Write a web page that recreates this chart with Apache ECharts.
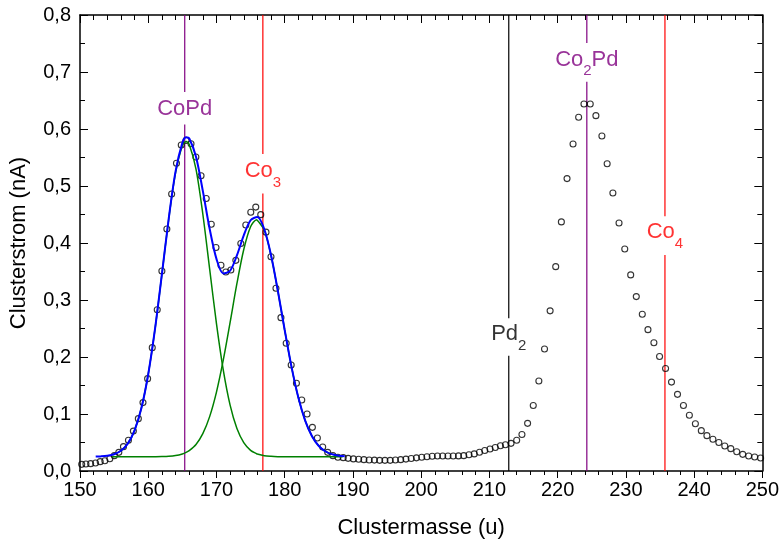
<!DOCTYPE html>
<html><head><meta charset="utf-8">
<script src="https://cdn.jsdelivr.net/npm/echarts@6/dist/echarts.min.js"></script>
<style>html,body{margin:0;padding:0;background:#fff}#c{width:782px;height:546px}</style>
</head><body><div id="c"></div>
<script>
// measured cluster current (scatter)
const massData = [150.25,150.87,151.56,152.28,152.96,153.64,154.37,155.03,155.69,156.37,157.1,157.82,158.55,159.23,159.91,160.59,161.32,162.0,162.73,163.43,164.14,164.84,165.55,166.27,166.98,167.74,168.5,169.24,169.93,170.66,171.38,172.11,172.84,173.57,174.3,175.03,175.76,176.49,177.26,177.99,178.72,179.45,180.22,180.95,181.72,182.5,183.28,184.06,184.79,185.57,186.3,187.07,187.8,188.58,189.3,190.07,190.84,191.61,192.38,193.15,193.92,194.69,195.46,196.23,197.0,197.77,198.54,199.31,200.08,200.85,201.62,202.39,203.16,203.93,204.7,205.47,206.24,207.01,207.78,208.55,209.32,210.09,210.86,211.62,212.35,213.17,214.0,214.77,215.6,216.43,217.25,218.08,218.9,219.72,220.55,221.38,222.26,223.08,223.86,224.78,225.61,226.49,227.26,228.1,229.0,229.84,230.71,231.53,232.41,233.24,234.11,234.94,235.82,236.69,237.57,238.44,239.31,240.19,241.06,241.88,242.76,243.63,244.5,245.38,246.25,247.13,248.0,248.88,249.75];
const currentData = [0.0117,0.0123,0.0129,0.014,0.0164,0.018,0.0216,0.0269,0.0327,0.0427,0.054,0.070,0.0918,0.120,0.162,0.2164,0.283,0.351,0.4246,0.486,0.540,0.572,0.580,0.574,0.551,0.518,0.478,0.433,0.392,0.361,0.349,0.3526,0.3696,0.399,0.4316,0.454,0.463,0.4497,0.419,0.376,0.3205,0.269,0.224,0.186,0.154,0.1246,0.100,0.0766,0.058,0.042,0.0327,0.0269,0.024,0.0234,0.0222,0.0212,0.0207,0.0199,0.0193,0.0191,0.0187,0.0187,0.0187,0.0193,0.0199,0.0209,0.0219,0.0231,0.0241,0.0251,0.0259,0.0263,0.0263,0.0263,0.0264,0.0265,0.0269,0.0285,0.0300,0.0330,0.0360,0.0385,0.0413,0.0444,0.046,0.0485,0.054,0.064,0.0836,0.115,0.158,0.214,0.281,0.3585,0.437,0.513,0.5737,0.6205,0.6439,0.6439,0.6234,0.5877,0.539,0.4877,0.435,0.3895,0.344,0.306,0.275,0.248,0.225,0.201,0.1797,0.156,0.1345,0.115,0.0977,0.083,0.0708,0.062,0.0556,0.050,0.0439,0.0392,0.0339,0.0292,0.0263,0.0246,0.0228];

// total fit (blue)
const fitMass = [152.3,153,154,155,156,157,158,159,160,161,162,163,164,165,165.55,166,167,168,169,170,171,172,173,174,175,176,177,178,179,180,181,182,183,184,185,186,187,188,188.8];
const fitSum = [0.0253,0.0256,0.0267,0.0294,0.0355,0.0480,0.0713,0.1105,0.1698,0.2496,0.3449,0.4425,0.5252,0.5757,0.5856,0.5838,0.5513,0.4914,0.4249,0.3721,0.3467,0.3513,0.3784,0.4133,0.4399,0.4456,0.4245,0.3786,0.3159,0.2473,0.1827,0.1288,0.0884,0.0610,0.0439,0.0342,0.0292,0.0268,0.0258];

// single peak components (green)
const compMass = [154.7,155,156,157,158,159,160,161,162,163,164,165,165.55,166,167,168,169,170,171,172,173,174,175,175.9,176,177,178,179,180,181,182,183,184,185,186,187,188,188.5];
const peak1Current = [0.0283,0.0294,0.0355,0.0480,0.0713,0.1105,0.1698,0.2496,0.3446,0.4417,0.5231,0.5708,0.5780,0.5731,0.5297,0.4509,0.3545,0.2586,0.1769,0.1155,0.0744,0.0497,0.0363,0.0302,0.0298,0.0268,0.0257,0.0252,0.0251,0.025,0.025,0.025,0.025,0.025,0.025,0.025,0.025,0.025];
const peak2Current = [0.025,0.025,0.025,0.025,0.025,0.025,0.025,0.0251,0.0253,0.0258,0.0271,0.0299,0.0326,0.0357,0.0466,0.0655,0.0954,0.1385,0.1948,0.2608,0.3290,0.3886,0.4286,0.4410,0.4408,0.4227,0.3779,0.3157,0.2472,0.1826,0.1288,0.0884,0.0610,0.0439,0.0342,0.0292,0.0268,0.0262];

// cluster mass markers
const markerNames = ['CoPd', 'Co3', 'Pd2', 'Co2Pd', 'Co4'];
const markerLabels = ['{m|CoPd}', '{m|Co}{s|3}', '{m|Pd}{s|2}', '{m|Co}{s|2}{m|Pd}', '{m|Co}{s|4}'];
const markerMass = [165.35, 176.80, 212.84, 224.28, 235.73];
const markerLabelY = [0.636, 0.526, 0.240, 0.722, 0.419];
const markerGapLow = [0.608, 0.487, 0.202, 0.683, 0.379];
const markerGapHigh = [0.665, 0.556, 0.268, 0.751, 0.447];
const markerColors = ['#800080', '#ff0000', '#000000', '#800080', '#ff0000'];

const yTickLabels = ['0,0','0,1','0,2','0,3','0,4','0,5','0,6','0,7','0,8'];

const FONT = 'Liberation Sans, Arial, sans-serif';
const chart = echarts.init(document.getElementById('c'), null, {renderer: 'canvas'});

const series = [];
markerMass.forEach((m, i) => {
  series.push({type: 'line', data: [[m, 0], [m, markerGapLow[i]]], symbol: 'none', silent: true,
    lineStyle: {color: markerColors[i], width: 1.2}, z: 1});
  series.push({type: 'line', data: [[m, markerGapHigh[i]], [m, 0.8]], symbol: 'none', silent: true,
    lineStyle: {color: markerColors[i], width: 1.2}, z: 1});
  series.push({type: 'scatter', name: markerNames[i], data: [[m, markerLabelY[i]]], symbolSize: 0, silent: true, z: 5,
    label: {show: true, position: 'inside', formatter: markerLabels[i],
      rich: {
        m: {fontSize: 22, fontFamily: FONT, color: markerColors[i], lineHeight: 38, verticalAlign: 'middle'},
        s: {fontSize: 15, fontFamily: FONT, color: markerColors[i], lineHeight: 12, verticalAlign: 'bottom'}
      }}});
});
series.push({type: 'scatter', data: massData.map((x, i) => [x, currentData[i]]), symbol: 'circle', symbolSize: 6,
  itemStyle: {color: 'rgba(255,255,255,0)', borderColor: '#000', borderWidth: 1.1}, z: 2});
series.push({type: 'line', data: compMass.map((x, i) => [x, peak1Current[i]]), symbol: 'none', smooth: 0.3,
  lineStyle: {color: '#008000', width: 1.5}, z: 3});
series.push({type: 'line', data: compMass.map((x, i) => [x, peak2Current[i]]), symbol: 'none', smooth: 0.3,
  lineStyle: {color: '#008000', width: 1.5}, z: 3});
series.push({type: 'line', data: fitMass.map((x, i) => [x, fitSum[i]]), symbol: 'none', smooth: 0.3,
  lineStyle: {color: '#0000ff', width: 2}, z: 4});

const axisLine = {show: true, onZero: false, lineStyle: {color: '#000', width: 1.5}};
chart.setOption({
  animation: false,
  backgroundColor: '#fff',
  grid: {left: 79, right: 17, top: 15, bottom: 75},
  xAxis: [
    {type: 'value', min: 150, max: 250, interval: 10, position: 'bottom',
     name: 'Clustermasse (u)', nameLocation: 'middle', nameGap: 46,
     nameTextStyle: {fontSize: 22, fontFamily: FONT, color: '#000'},
     axisLine: axisLine,
     axisTick: {show: true, inside: false, length: 7, lineStyle: {color: '#000', width: 1}},
     minorTick: {show: true, splitNumber: 5, length: 4, lineStyle: {color: '#000', width: 1}},
     axisLabel: {fontSize: 20, fontFamily: FONT, color: '#000', margin: 9},
     splitLine: {show: false}},
    {type: 'value', min: 150, max: 250, interval: 10, position: 'top',
     axisLine: axisLine,
     axisTick: {show: true, inside: true, length: 8, lineStyle: {color: '#000', width: 1}},
     minorTick: {show: true, splitNumber: 5, length: 5, lineStyle: {color: '#000', width: 1}},
     axisLabel: {show: false}, splitLine: {show: false}}
  ],
  yAxis: [
    {type: 'value', min: 0, max: 0.8, interval: 0.1, position: 'left',
     name: 'Clusterstrom (nA)', nameLocation: 'middle', nameGap: 50,
     nameTextStyle: {fontSize: 22, fontFamily: FONT, color: '#000'},
     axisLine: axisLine,
     axisTick: {show: true, inside: true, length: 8, lineStyle: {color: '#000', width: 1}},
     minorTick: {show: true, splitNumber: 2, length: 5, lineStyle: {color: '#000', width: 1}},
     axisLabel: {fontSize: 20, fontFamily: FONT, color: '#000', margin: 9,
       formatter: v => yTickLabels[Math.round(v * 10)]},
     splitLine: {show: false}},
    {type: 'value', min: 0, max: 0.8, interval: 0.1, position: 'right',
     axisLine: axisLine,
     axisTick: {show: true, inside: true, length: 8, lineStyle: {color: '#000', width: 1}},
     minorTick: {show: true, splitNumber: 2, length: 5, lineStyle: {color: '#000', width: 1}},
     axisLabel: {show: false}, splitLine: {show: false}}
  ],
  series: series
});
</script></body></html>
